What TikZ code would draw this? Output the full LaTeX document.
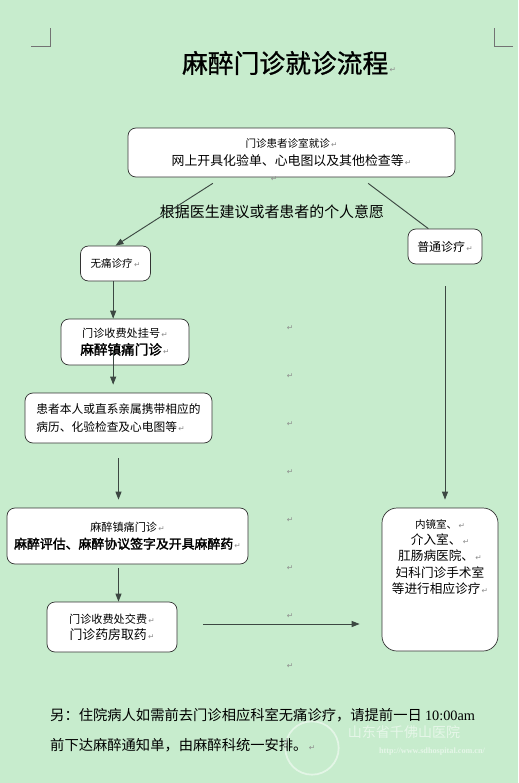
\documentclass[tikz,border=0pt]{standalone}
\usepackage{fontspec}
\usepackage{xcolor}
\usepackage{tikz}
\usetikzlibrary{arrows.meta, positioning, calc}
\setmainfont{Liberation Serif}
\newfontfamily\cjk{Noto Sans CJK SC}
\newfontfamily\cjkb[FakeBold=2]{Noto Sans CJK SC}
\newfontfamily\cjkt[FakeBold=1]{Noto Sans CJK SC}
\newfontfamily\dejavu{DejaVu Sans}
\definecolor{bggreen}{RGB}{199,236,205}
\definecolor{linegray}{RGB}{60,72,66}
\newcommand{\pmk}{{\dejavu\color{black!45}\fontsize{6.5}{6.5}\selectfont\,↵}}
\tikzset{
  box/.style   = {rectangle, draw=black!80, fill=white, rounded corners=0.24cm,
                  line width=0.6pt, inner sep=0pt},
  arrow/.style = {draw=linegray, line width=0.8pt, -{Triangle[length=0.24cm, width=0.18cm]}},
  line/.style  = {draw=linegray, line width=0.8pt},
  pmark/.style = {font=\dejavu\fontsize{6.5}{6.5}\selectfont, text=black!45, inner sep=0pt},
}
\begin{document}
\begin{tikzpicture}[x=0.03cm, y=-0.03cm, every node/.style={font=\cjk}]

    \fill[bggreen] (0,0) rectangle (518,783);
    \useasboundingbox (0,0) rectangle (518,783);

    %% page corner marks
    \draw[black!55, line width=0.5pt] (31,46) -- (50,46) -- (50,28);
    \draw[black!55, line width=0.5pt] (513,46) -- (494,46) -- (494,28);

    %% title
    \node[font=\cjkt\fontsize{22}{22}\selectfont] (title) at (289,63) {麻醉门诊就诊流程\pmk};

    %% first visit
    \node[box, minimum width=9.81cm, minimum height=1.47cm, align=center,
          font=\cjk\fontsize{11}{15.5}\selectfont] (visit) at (291.5,152.5)
          {{\fontsize{9}{15.5}\selectfont 门诊患者诊室就诊}\pmk\\网上开具化验单、心电图以及其他检查等\pmk};
    \node[pmark] (pm0) at (274,179) {↵};

    \node[font=\cjk\fontsize{12.75}{13}\selectfont] (wish) at (272,212) {根据医生建议或者患者的个人意愿};

    %% two branches
    \node[box, minimum width=2.1cm, minimum height=1.05cm,
          font=\cjk\fontsize{9}{11}\selectfont] (painless) at (115.5,263.5) {无痛诊疗\pmk};
    \node[box, minimum width=2.22cm, minimum height=1.05cm,
          font=\cjk\fontsize{10.2}{12}\selectfont] (normal) at (445,246.5) {普通诊疗\pmk};

    \draw[arrow] ([xshift=-2.36cm, yshift=-0.18cm]visit.south) -- (painless.north);
    \draw[line]  ([xshift=2.3cm, yshift=-0.18cm]visit.south) -- ([xshift=-0.5cm]normal.north);

    %% left column
    \node[box, minimum width=3.84cm, minimum height=1.38cm, align=center,
          font=\cjk\fontsize{11.6}{14.5}\selectfont] (register) at (125,342)
          {{\fontsize{9.5}{14.5}\selectfont 门诊收费处挂号}\pmk\\{\cjkb 麻醉镇痛门诊}\pmk};
    \node[box, minimum width=5.61cm, minimum height=1.5cm, align=left,
          font=\cjk\fontsize{10}{16}\selectfont] (records) at (118.5,418)
          {患者本人或直系亲属携带相应的\\病历、化验检查及心电图等\pmk};
    \node[box, minimum width=7.23cm, minimum height=1.68cm, align=center,
          font=\cjk\fontsize{11}{14.5}\selectfont] (assess) at (127.5,536)
          {{\fontsize{9.5}{14.5}\selectfont 麻醉镇痛门诊}\pmk\\{\cjkb 麻醉评估、麻醉协议签字及开具麻醉药}\pmk};
    \node[box, minimum width=3.9cm, minimum height=1.5cm, align=center,
          font=\cjk\fontsize{11}{13.5}\selectfont] (pay) at (112,627)
          {{\fontsize{9.5}{13.5}\selectfont 门诊收费处交费}\pmk\\门诊药房取药\pmk};

    \draw[arrow] ([xshift=-0.07cm]painless.south) -- ([xshift=-0.07cm]painless.south |- register.north);
    \draw[arrow, shorten >=0.24cm] ([xshift=-0.07cm, yshift=-0.24cm]painless.south |- register.center)
         -- ([xshift=-0.07cm]painless.south |- records.north);
    \draw[arrow, shorten <=0.45cm, shorten >=0.24cm] (records.south) -- (records.south |- assess.north);
    \draw[arrow, shorten <=0.12cm] (records.south |- assess.south) -- (records.south |- pay.north);

    %% right column
    \node[box, rounded corners=0.45cm, minimum width=3.48cm, minimum height=4.29cm] (dept) at (440,579.5) {};
    \node[align=center, font=\cjk\fontsize{10.8}{13.8}\selectfont] (deptText) at (440,557)
          {{\fontsize{9}{13.8}\selectfont 内镜室、}\pmk\\介入室、\pmk\\肛肠病医院、\pmk\\妇科门诊手术室\\等进行相应诊疗\pmk};

    \draw[arrow, shorten <=0.66cm, shorten >=0.24cm] (normal.south) -- (normal.south |- dept.north);
    \draw[arrow, shorten <=0.78cm, shorten >=0.66cm] ([yshift=0.09cm]pay.east) -- ([yshift=0.09cm]pay.east -| dept.west);

    %% paragraph marks
    \foreach \y [count=\i] in {328,376,424,472,520,568,616,666}
        \node[pmark] (pm\i) at (290,\y) {↵};

    %% note
    \node[anchor=west, align=left, inner sep=0pt, font=\cjk\fontsize{12.2}{25.5}\selectfont] (note) at (50,730)
          {另：住院病人如需前去门诊相应科室无痛诊疗，请提前一日 {\rmfamily 10:00am}\\前下达麻醉通知单，由麻醉科统一安排。\pmk};

    %% watermark
    \draw[white, opacity=0.5, line width=1.5pt] (312,748) circle (0.8cm);
    \node[font=\cjk\fontsize{12}{12}\selectfont, text=white, opacity=0.55] (wmark) at (404,732) {山东省千佛山医院};
    \node[font=\rmfamily\bfseries\fontsize{7}{7}\selectfont, text=white, opacity=0.55] (wurl) at (432,752) {http://www.sdhospital.com.cn/};

\end{tikzpicture}
\end{document}
